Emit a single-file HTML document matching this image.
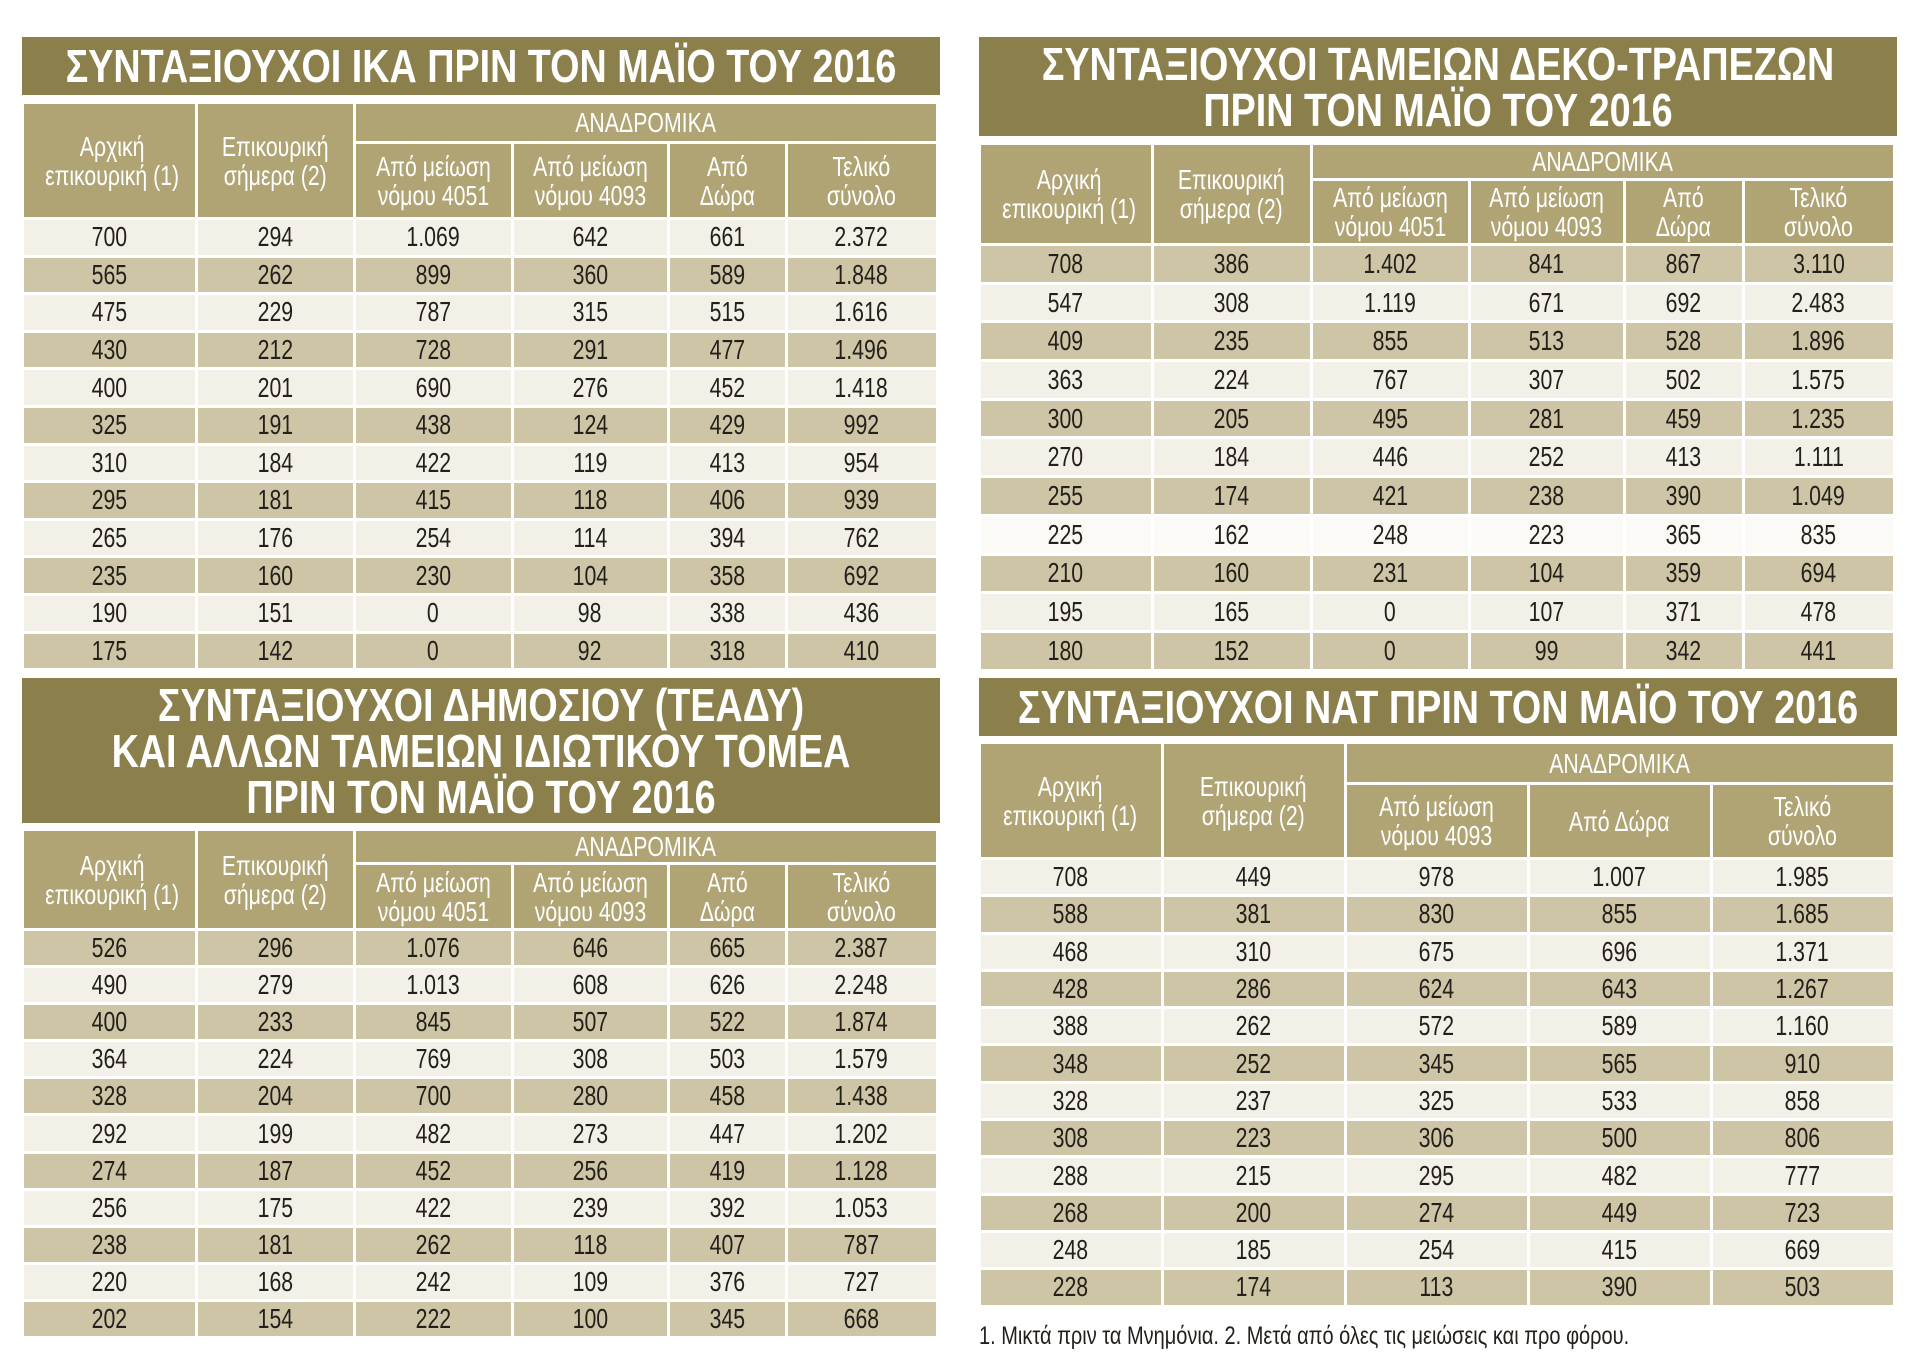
<!DOCTYPE html>
<html><head><meta charset="utf-8"><style>
body{margin:0;width:1920px;height:1367px;background:#fff;position:relative;overflow:hidden;font-family:"Liberation Sans","DejaVu Sans",sans-serif}
.t{position:absolute;background:#8b7f4c;color:#fff;font-weight:bold;font-size:46px;text-align:center;line-height:46px;overflow:hidden}
.t div{width:2000px;margin-left:calc(50% - 1000px);transform:scaleX(.82);transform-origin:center;white-space:nowrap;}
table{position:absolute;border-collapse:collapse;table-layout:fixed}
td{border:3px solid #fff;padding:0;text-align:center;color:#231f1a;font-size:28px;white-space:nowrap;overflow:hidden}
td span{display:inline-block;transform:scaleX(.76)}
.h td{background:#b0a475;color:#fff;font-size:28px;line-height:29px}
tr.d td{background:#cdc5a6}
tr.l td{background:#f3f0e8}
.fn{position:absolute;left:979px;top:1322px;font-size:25px;color:#231f1a;transform:scaleX(.8);transform-origin:left;white-space:nowrap}
</style></head><body>

<div class="t" style="left:22px;top:37px;width:918px;height:58px;padding-top:6px;box-sizing:border-box"><div>ΣΥΝΤΑΞΙΟΥΧΟΙ ΙΚΑ ΠΡΙΝ ΤΟΝ ΜΑΪΟ ΤΟΥ 2016</div></div>
<table style="left:20.5px;top:101px;width:915px">
<colgroup><col style="width:174px"><col style="width:158px"><col style="width:158px"><col style="width:156px"><col style="width:118px"><col style="width:151px"></colgroup>
<tr class="h" style="height:40px"><td rowspan="2"><span>Αρχική<br>επικουρική (1)</span></td><td rowspan="2"><span>Επικουρική<br>σήμερα (2)</span></td><td colspan="4"><span>ΑΝΑΔΡΟΜΙΚΑ</span></td></tr>
<tr class="h" style="height:76px"><td><span>Από μείωση<br>νόμου 4051</span></td><td><span>Από μείωση<br>νόμου 4093</span></td><td><span>Από<br>Δώρα</span></td><td><span>Τελικό<br>σύνολο</span></td></tr>
<tr class="l" style="height:37.6px"><td><span>700</span></td><td><span>294</span></td><td><span>1.069</span></td><td><span>642</span></td><td><span>661</span></td><td><span>2.372</span></td></tr>
<tr class="d" style="height:37.6px"><td><span>565</span></td><td><span>262</span></td><td><span>899</span></td><td><span>360</span></td><td><span>589</span></td><td><span>1.848</span></td></tr>
<tr class="l" style="height:37.6px"><td><span>475</span></td><td><span>229</span></td><td><span>787</span></td><td><span>315</span></td><td><span>515</span></td><td><span>1.616</span></td></tr>
<tr class="d" style="height:37.6px"><td><span>430</span></td><td><span>212</span></td><td><span>728</span></td><td><span>291</span></td><td><span>477</span></td><td><span>1.496</span></td></tr>
<tr class="l" style="height:37.6px"><td><span>400</span></td><td><span>201</span></td><td><span>690</span></td><td><span>276</span></td><td><span>452</span></td><td><span>1.418</span></td></tr>
<tr class="d" style="height:37.6px"><td><span>325</span></td><td><span>191</span></td><td><span>438</span></td><td><span>124</span></td><td><span>429</span></td><td><span>992</span></td></tr>
<tr class="l" style="height:37.6px"><td><span>310</span></td><td><span>184</span></td><td><span>422</span></td><td><span>119</span></td><td><span>413</span></td><td><span>954</span></td></tr>
<tr class="d" style="height:37.6px"><td><span>295</span></td><td><span>181</span></td><td><span>415</span></td><td><span>118</span></td><td><span>406</span></td><td><span>939</span></td></tr>
<tr class="l" style="height:37.6px"><td><span>265</span></td><td><span>176</span></td><td><span>254</span></td><td><span>114</span></td><td><span>394</span></td><td><span>762</span></td></tr>
<tr class="d" style="height:37.6px"><td><span>235</span></td><td><span>160</span></td><td><span>230</span></td><td><span>104</span></td><td><span>358</span></td><td><span>692</span></td></tr>
<tr class="l" style="height:37.6px"><td><span>190</span></td><td><span>151</span></td><td><span>0</span></td><td><span>98</span></td><td><span>338</span></td><td><span>436</span></td></tr>
<tr class="d" style="height:37.6px"><td><span>175</span></td><td><span>142</span></td><td><span>0</span></td><td><span>92</span></td><td><span>318</span></td><td><span>410</span></td></tr>
</table>

<div class="t" style="left:979px;top:37px;width:918px;height:99px;padding-top:4px;box-sizing:border-box"><div>ΣΥΝΤΑΞΙΟΥΧΟΙ ΤΑΜΕΙΩΝ ΔΕΚΟ-ΤΡΑΠΕΖΩΝ</div><div>ΠΡΙΝ ΤΟΝ ΜΑΪΟ ΤΟΥ 2016</div></div>
<table style="left:977.5px;top:142px;width:915px">
<colgroup><col style="width:173px"><col style="width:159px"><col style="width:158px"><col style="width:155px"><col style="width:119px"><col style="width:151px"></colgroup>
<tr class="h" style="height:36px"><td rowspan="2"><span>Αρχική<br>επικουρική (1)</span></td><td rowspan="2"><span>Επικουρική<br>σήμερα (2)</span></td><td colspan="4"><span>ΑΝΑΔΡΟΜΙΚΑ</span></td></tr>
<tr class="h" style="height:65px"><td><span>Από μείωση<br>νόμου 4051</span></td><td><span>Από μείωση<br>νόμου 4093</span></td><td><span>Από<br>Δώρα</span></td><td><span>Τελικό<br>σύνολο</span></td></tr>
<tr class="d" style="height:38.7px"><td><span>708</span></td><td><span>386</span></td><td><span>1.402</span></td><td><span>841</span></td><td><span>867</span></td><td><span>3.110</span></td></tr>
<tr class="l" style="height:38.7px"><td><span>547</span></td><td><span>308</span></td><td><span>1.119</span></td><td><span>671</span></td><td><span>692</span></td><td><span>2.483</span></td></tr>
<tr class="d" style="height:38.7px"><td><span>409</span></td><td><span>235</span></td><td><span>855</span></td><td><span>513</span></td><td><span>528</span></td><td><span>1.896</span></td></tr>
<tr class="l" style="height:38.7px"><td><span>363</span></td><td><span>224</span></td><td><span>767</span></td><td><span>307</span></td><td><span>502</span></td><td><span>1.575</span></td></tr>
<tr class="d" style="height:38.7px"><td><span>300</span></td><td><span>205</span></td><td><span>495</span></td><td><span>281</span></td><td><span>459</span></td><td><span>1.235</span></td></tr>
<tr class="l" style="height:38.7px"><td><span>270</span></td><td><span>184</span></td><td><span>446</span></td><td><span>252</span></td><td><span>413</span></td><td><span>1.111</span></td></tr>
<tr class="d" style="height:38.7px"><td><span>255</span></td><td><span>174</span></td><td><span>421</span></td><td><span>238</span></td><td><span>390</span></td><td><span>1.049</span></td></tr>
<tr class="l" style="height:38.7px"><td style="background:#fbfaf7"><span>225</span></td><td style="background:#fbfaf7"><span>162</span></td><td style="background:#fbfaf7"><span>248</span></td><td style="background:#fbfaf7"><span>223</span></td><td style="background:#fbfaf7"><span>365</span></td><td style="background:#fbfaf7"><span>835</span></td></tr>
<tr class="d" style="height:38.7px"><td><span>210</span></td><td><span>160</span></td><td><span>231</span></td><td><span>104</span></td><td><span>359</span></td><td><span>694</span></td></tr>
<tr class="l" style="height:38.7px"><td><span>195</span></td><td><span>165</span></td><td><span>0</span></td><td><span>107</span></td><td><span>371</span></td><td><span>478</span></td></tr>
<tr class="d" style="height:38.7px"><td><span>180</span></td><td><span>152</span></td><td><span>0</span></td><td><span>99</span></td><td><span>342</span></td><td><span>441</span></td></tr>
</table>

<div class="t" style="left:22px;top:678px;width:918px;height:145px;padding-top:4px;box-sizing:border-box"><div>ΣΥΝΤΑΞΙΟΥΧΟΙ ΔΗΜΟΣΙΟΥ (ΤΕΑΔΥ)</div><div>ΚΑΙ ΑΛΛΩΝ ΤΑΜΕΙΩΝ ΙΔΙΩΤΙΚΟΥ ΤΟΜΕΑ</div><div>ΠΡΙΝ ΤΟΝ ΜΑΪΟ ΤΟΥ 2016</div></div>
<table style="left:20.5px;top:828px;width:915px">
<colgroup><col style="width:174px"><col style="width:158px"><col style="width:158px"><col style="width:156px"><col style="width:118px"><col style="width:151px"></colgroup>
<tr class="h" style="height:34px"><td rowspan="2"><span>Αρχική<br>επικουρική (1)</span></td><td rowspan="2"><span>Επικουρική<br>σήμερα (2)</span></td><td colspan="4"><span>ΑΝΑΔΡΟΜΙΚΑ</span></td></tr>
<tr class="h" style="height:66px"><td><span>Από μείωση<br>νόμου 4051</span></td><td><span>Από μείωση<br>νόμου 4093</span></td><td><span>Από<br>Δώρα</span></td><td><span>Τελικό<br>σύνολο</span></td></tr>
<tr class="d" style="height:37.1px"><td><span>526</span></td><td><span>296</span></td><td><span>1.076</span></td><td><span>646</span></td><td><span>665</span></td><td><span>2.387</span></td></tr>
<tr class="l" style="height:37.1px"><td><span>490</span></td><td><span>279</span></td><td><span>1.013</span></td><td><span>608</span></td><td><span>626</span></td><td><span>2.248</span></td></tr>
<tr class="d" style="height:37.1px"><td><span>400</span></td><td><span>233</span></td><td><span>845</span></td><td><span>507</span></td><td><span>522</span></td><td><span>1.874</span></td></tr>
<tr class="l" style="height:37.1px"><td><span>364</span></td><td><span>224</span></td><td><span>769</span></td><td><span>308</span></td><td><span>503</span></td><td><span>1.579</span></td></tr>
<tr class="d" style="height:37.1px"><td><span>328</span></td><td><span>204</span></td><td><span>700</span></td><td><span>280</span></td><td><span>458</span></td><td><span>1.438</span></td></tr>
<tr class="l" style="height:37.1px"><td><span>292</span></td><td><span>199</span></td><td><span>482</span></td><td><span>273</span></td><td><span>447</span></td><td><span>1.202</span></td></tr>
<tr class="d" style="height:37.1px"><td><span>274</span></td><td><span>187</span></td><td><span>452</span></td><td><span>256</span></td><td><span>419</span></td><td><span>1.128</span></td></tr>
<tr class="l" style="height:37.1px"><td><span>256</span></td><td><span>175</span></td><td><span>422</span></td><td><span>239</span></td><td><span>392</span></td><td><span>1.053</span></td></tr>
<tr class="d" style="height:37.1px"><td><span>238</span></td><td><span>181</span></td><td><span>262</span></td><td><span>118</span></td><td><span>407</span></td><td><span>787</span></td></tr>
<tr class="l" style="height:37.1px"><td><span>220</span></td><td><span>168</span></td><td><span>242</span></td><td><span>109</span></td><td><span>376</span></td><td><span>727</span></td></tr>
<tr class="d" style="height:37.1px"><td><span>202</span></td><td><span>154</span></td><td><span>222</span></td><td><span>100</span></td><td><span>345</span></td><td><span>668</span></td></tr>
</table>

<div class="t" style="left:979px;top:678px;width:918px;height:58px;padding-top:6px;box-sizing:border-box"><div>ΣΥΝΤΑΞΙΟΥΧΟΙ ΝΑΤ ΠΡΙΝ ΤΟΝ ΜΑΪΟ ΤΟΥ 2016</div></div>
<table style="left:977.5px;top:741px;width:915px">
<colgroup><col style="width:183px"><col style="width:183px"><col style="width:183px"><col style="width:183px"><col style="width:183px"></colgroup>
<tr class="h" style="height:41px"><td rowspan="2"><span>Αρχική<br>επικουρική (1)</span></td><td rowspan="2"><span>Επικουρική<br>σήμερα (2)</span></td><td colspan="3"><span>ΑΝΑΔΡΟΜΙΚΑ</span></td></tr>
<tr class="h" style="height:75px"><td><span>Από μείωση<br>νόμου 4093</span></td><td><span>Από Δώρα</span></td><td><span>Τελικό<br>σύνολο</span></td></tr>
<tr class="l" style="height:37.3px"><td><span>708</span></td><td><span>449</span></td><td><span>978</span></td><td><span>1.007</span></td><td><span>1.985</span></td></tr>
<tr class="d" style="height:37.3px"><td><span>588</span></td><td><span>381</span></td><td><span>830</span></td><td><span>855</span></td><td><span>1.685</span></td></tr>
<tr class="l" style="height:37.3px"><td><span>468</span></td><td><span>310</span></td><td><span>675</span></td><td><span>696</span></td><td><span>1.371</span></td></tr>
<tr class="d" style="height:37.3px"><td><span>428</span></td><td><span>286</span></td><td><span>624</span></td><td><span>643</span></td><td><span>1.267</span></td></tr>
<tr class="l" style="height:37.3px"><td><span>388</span></td><td><span>262</span></td><td><span>572</span></td><td><span>589</span></td><td><span>1.160</span></td></tr>
<tr class="d" style="height:37.3px"><td><span>348</span></td><td><span>252</span></td><td><span>345</span></td><td><span>565</span></td><td><span>910</span></td></tr>
<tr class="l" style="height:37.3px"><td><span>328</span></td><td><span>237</span></td><td><span>325</span></td><td><span>533</span></td><td><span>858</span></td></tr>
<tr class="d" style="height:37.3px"><td><span>308</span></td><td><span>223</span></td><td><span>306</span></td><td><span>500</span></td><td><span>806</span></td></tr>
<tr class="l" style="height:37.3px"><td><span>288</span></td><td><span>215</span></td><td><span>295</span></td><td><span>482</span></td><td><span>777</span></td></tr>
<tr class="d" style="height:37.3px"><td><span>268</span></td><td><span>200</span></td><td><span>274</span></td><td><span>449</span></td><td><span>723</span></td></tr>
<tr class="l" style="height:37.3px"><td><span>248</span></td><td><span>185</span></td><td><span>254</span></td><td><span>415</span></td><td><span>669</span></td></tr>
<tr class="d" style="height:37.3px"><td><span>228</span></td><td><span>174</span></td><td><span>113</span></td><td><span>390</span></td><td><span>503</span></td></tr>
</table>

<div class="fn">1. Μικτά πριν τα Μνημόνια. 2. Μετά από όλες τις μειώσεις και προ φόρου.</div>
</body></html>
